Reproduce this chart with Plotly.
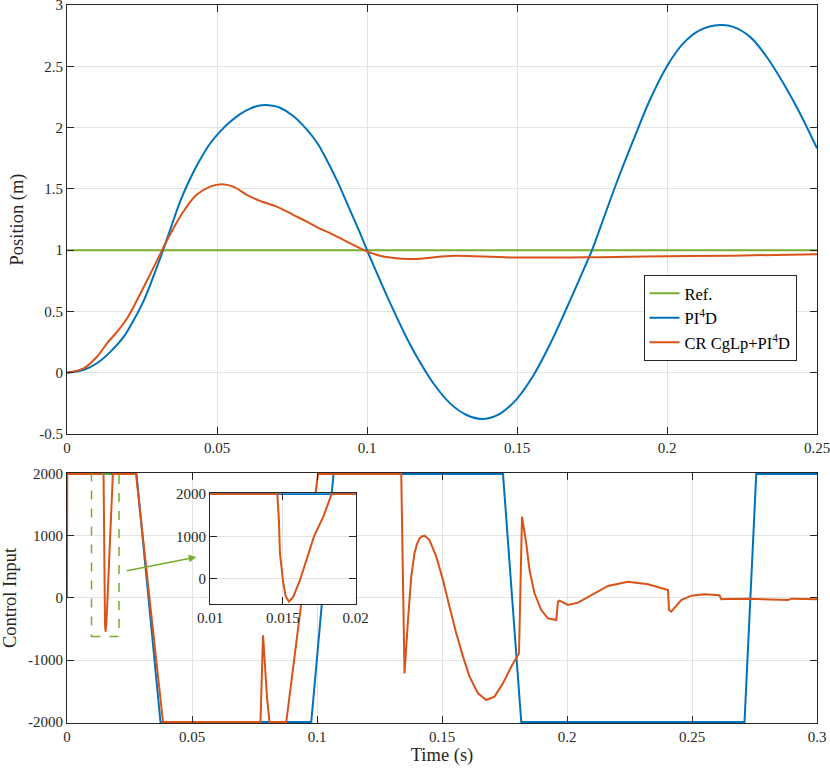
import plotly.graph_objects as go

# position response (top plot)
t_ref = [0, 0.25]
y_ref = [1, 1]

t_pid = [0, 0.0057, 0.0101, 0.0146, 0.019, 0.0223, 0.0257, 0.029, 0.031, 0.0343,
         0.0377, 0.041, 0.0443, 0.0477, 0.051, 0.0543, 0.0577, 0.061, 0.0635, 0.066,
         0.0685, 0.071, 0.0754, 0.0799, 0.0838, 0.0854, 0.0899, 0.0943, 0.0977, 0.1,
         0.1043, 0.1077, 0.1127, 0.1166, 0.1221, 0.1277, 0.1332, 0.1382, 0.1443, 0.1499,
         0.1554, 0.161, 0.1666, 0.1721, 0.175, 0.1777, 0.1832, 0.1888, 0.1943, 0.1999,
         0.2054, 0.211, 0.2177, 0.2221, 0.2277, 0.2332, 0.2388, 0.2443, 0.25]
y_pid = [0, 0.024, 0.079, 0.174, 0.296, 0.432, 0.595, 0.799, 0.93, 1.16,
         1.396, 1.58, 1.735, 1.87, 1.967, 2.045, 2.11, 2.155, 2.176, 2.184,
         2.178, 2.162, 2.095, 1.985, 1.86, 1.79, 1.573, 1.328, 1.139, 1.0,
         0.757, 0.57, 0.31, 0.131, -0.086, -0.25, -0.345, -0.377, -0.335, -0.215,
         -0.025, 0.232, 0.53, 0.835, 1.0, 1.18, 1.55, 1.899, 2.225, 2.497,
         2.687, 2.795, 2.836, 2.822, 2.74, 2.578, 2.361, 2.117, 1.83]

t_cr = [0, 0.0057, 0.0101, 0.0134, 0.0168, 0.0201, 0.0234, 0.0268, 0.0301, 0.0343,
        0.0388, 0.0432, 0.0477, 0.0516, 0.0554, 0.0599, 0.0643, 0.0699, 0.0754, 0.0799,
        0.0843, 0.0877, 0.0943, 0.1, 0.1043, 0.1077, 0.1154, 0.1277, 0.1477, 0.1777,
        0.1999, 0.222, 0.25]
y_cr = [0, 0.038, 0.133, 0.242, 0.337, 0.446, 0.595, 0.758, 0.921, 1.125,
        1.315, 1.451, 1.518, 1.538, 1.518, 1.451, 1.402, 1.355, 1.288, 1.233,
        1.175, 1.139, 1.057, 0.99, 0.955, 0.94, 0.927, 0.953, 0.94, 0.943,
        0.95, 0.955, 0.967]

# control input (bottom plot)
tu_pid = [0, 0.0278, 0.0374, 0.0977, 0.1066, 0.1744, 0.1817, 0.271, 0.2757, 0.3]
u_pid = [2000, 2000, -2000, -2000, 2000, 2000, -2000, -2000, 2000, 2000]

tu_cr = [0, 0.0001, 0.01462, 0.01473, 0.0148, 0.01503, 0.0152, 0.01542, 0.01572, 0.01618,
         0.01714, 0.01778, 0.01835, 0.0276, 0.0384, 0.0774, 0.0784, 0.0789, 0.08, 0.081,
         0.0877, 0.0937, 0.1004, 0.1337, 0.135, 0.1364, 0.1377, 0.139, 0.14, 0.141,
         0.142, 0.143, 0.145, 0.1477, 0.1504, 0.153, 0.1557, 0.1584, 0.161, 0.1644,
         0.1677, 0.171, 0.1744, 0.1777, 0.1808, 0.182, 0.1837, 0.185, 0.187, 0.1897,
         0.1924, 0.1957, 0.1964, 0.197, 0.2004, 0.2044, 0.2097, 0.2164, 0.2244, 0.2324,
         0.2404, 0.2408, 0.2417, 0.2457, 0.2497, 0.255, 0.261, 0.2617, 0.2644, 0.2724,
         0.2884, 0.2898, 0.3]
u_cr = [0, 2000, 2000, 1388, 600, -109, -420, -544, -425, -31,
        1000, 1466, 2000, 2000, -2000, -2000, -600, -900, -1600, -2000,
        -2000, -90, 2000, 2000, -1215, -355, 344, 721, 870, 960,
        995, 1005, 935, 666, 290, -140, -570, -946, -1269, -1538,
        -1645, -1591, -1376, -1108, -892, 1311, 882, 452, 76, -194,
        -327, -355, -59, -43, -113, -75, 48, 194, 263, 221,
        129, -194, -220, -32, 37, 60, 44, -21, -16, -11,
        -32, -11, -21]

ytick_top = [-0.5, 0, 0.5, 1, 1.5, 2, 2.5, 3]
ytick_top_txt = ["-0.5", "0", "0.5", "1", "1.5", "2", "2.5", "3"]
xtick_top = [0, 0.05, 0.1, 0.15, 0.2, 0.25]
xtick_bot = [0, 0.05, 0.1, 0.15, 0.2, 0.25, 0.3]
ytick_bot = [-2000, -1000, 0, 1000, 2000]
ytick_bot_txt = ["-2000", "-1000", "0", "1000", "2000"]
xtick_in = [0.01, 0.015, 0.02]
ytick_in = [0, 1000, 2000]

BLUE = "#0072BD"
ORANGE = "#D95319"
GREEN = "#77AC30"
AX = "#262626"
GRID = "#e3e3e3"
FONT = "Liberation Serif"

fig = go.Figure()

fig.add_trace(go.Scatter(x=t_ref, y=y_ref, mode="lines", name="Ref.",
                         line=dict(color=GREEN, width=2), xaxis="x", yaxis="y"))
fig.add_trace(go.Scatter(x=t_pid, y=y_pid, mode="lines", name="PI<sup>4</sup>D",
                         line=dict(color=BLUE, width=2, shape="spline", smoothing=1),
                         xaxis="x", yaxis="y"))
fig.add_trace(go.Scatter(x=t_cr, y=y_cr, mode="lines", name="CR CgLp+PI<sup>4</sup>D",
                         line=dict(color=ORANGE, width=2, shape="spline", smoothing=1),
                         xaxis="x", yaxis="y"))

fig.add_trace(go.Scatter(x=tu_pid, y=u_pid, mode="lines", showlegend=False,
                         line=dict(color=BLUE, width=2), xaxis="x2", yaxis="y2"))
fig.add_trace(go.Scatter(x=tu_cr, y=u_cr, mode="lines", showlegend=False,
                         line=dict(color=ORANGE, width=2), xaxis="x2", yaxis="y2"))

# zoomed inset
fig.add_trace(go.Scatter(x=tu_pid, y=u_pid, mode="lines", showlegend=False,
                         line=dict(color=BLUE, width=2), xaxis="x3", yaxis="y3"))
fig.add_trace(go.Scatter(x=tu_cr, y=u_cr, mode="lines", showlegend=False,
                         line=dict(color=ORANGE, width=2), xaxis="x3", yaxis="y3"))

axis_style = dict(showline=True, linecolor=AX, linewidth=1, mirror="ticks",
                  ticks="inside", ticklen=7, tickcolor=AX, showgrid=True,
                  gridcolor=GRID, zeroline=False, automargin=False,
                  ticklabeloverflow="allow",
                  tickfont=dict(family=FONT, size=15, color=AX))
title_font = dict(family=FONT, size=18.5, color=AX)

fig.update_layout(
    width=830, height=770,
    margin=dict(l=67, r=13, t=5, b=47),
    paper_bgcolor="white", plot_bgcolor="white",
    font=dict(family=FONT, size=15, color=AX),
    xaxis=dict(domain=[0, 1], range=[0, 0.25], tickvals=xtick_top,
               anchor="y", **axis_style),
    yaxis=dict(domain=[0.4025, 1.0], range=[-0.5, 3], tickvals=ytick_top,
               ticktext=ytick_top_txt, anchor="x",
               title=dict(text="Position (m)", font=title_font, standoff=10),
               **axis_style),
    xaxis2=dict(domain=[0, 1], range=[0, 0.3], tickvals=xtick_bot,
                anchor="y2",
                title=dict(text="Time (s)", font=title_font, standoff=4),
                **axis_style),
    yaxis2=dict(domain=[0, 0.3482], range=[-2016, 2016], tickvals=ytick_bot,
                ticktext=ytick_bot_txt, anchor="x2",
                title=dict(text="Control Input", font=title_font, standoff=6),
                **axis_style),
    xaxis3=dict(domain=[0.1907, 0.3849], range=[0.01, 0.02], tickvals=xtick_in,
                anchor="y3", **axis_style),
    yaxis3=dict(domain=[0.1657, 0.3201], range=[-600, 2020], tickvals=ytick_in,
                anchor="x3", **axis_style),
    legend=dict(x=0.8707, y=0.564, xanchor="center", yanchor="middle",
                bgcolor="white", bordercolor=AX, borderwidth=1,
                font=dict(family=FONT, size=16.5, color="black"),
                tracegroupgap=0),
)

# dashed box marking the zoomed region
fig.add_shape(type="rect", xref="x2", yref="y2", x0=0.0098, x1=0.0208, y0=-620, y1=2000,
              line=dict(color=GREEN, width=1.5, dash="dash"))
fig.add_annotation(xref="x2", yref="y2", axref="x2", ayref="y2",
                   x=0.0517, y=661, ax=0.0233, ay=435, text="", showarrow=True,
                   arrowhead=2, arrowsize=1, arrowwidth=1.5, arrowcolor=GREEN)

# drop the default page margin so the figure sits at the window origin
fig.write_html("out.html", config={"displayModeBar": False},
               post_script="document.body.style.margin='0px';")
